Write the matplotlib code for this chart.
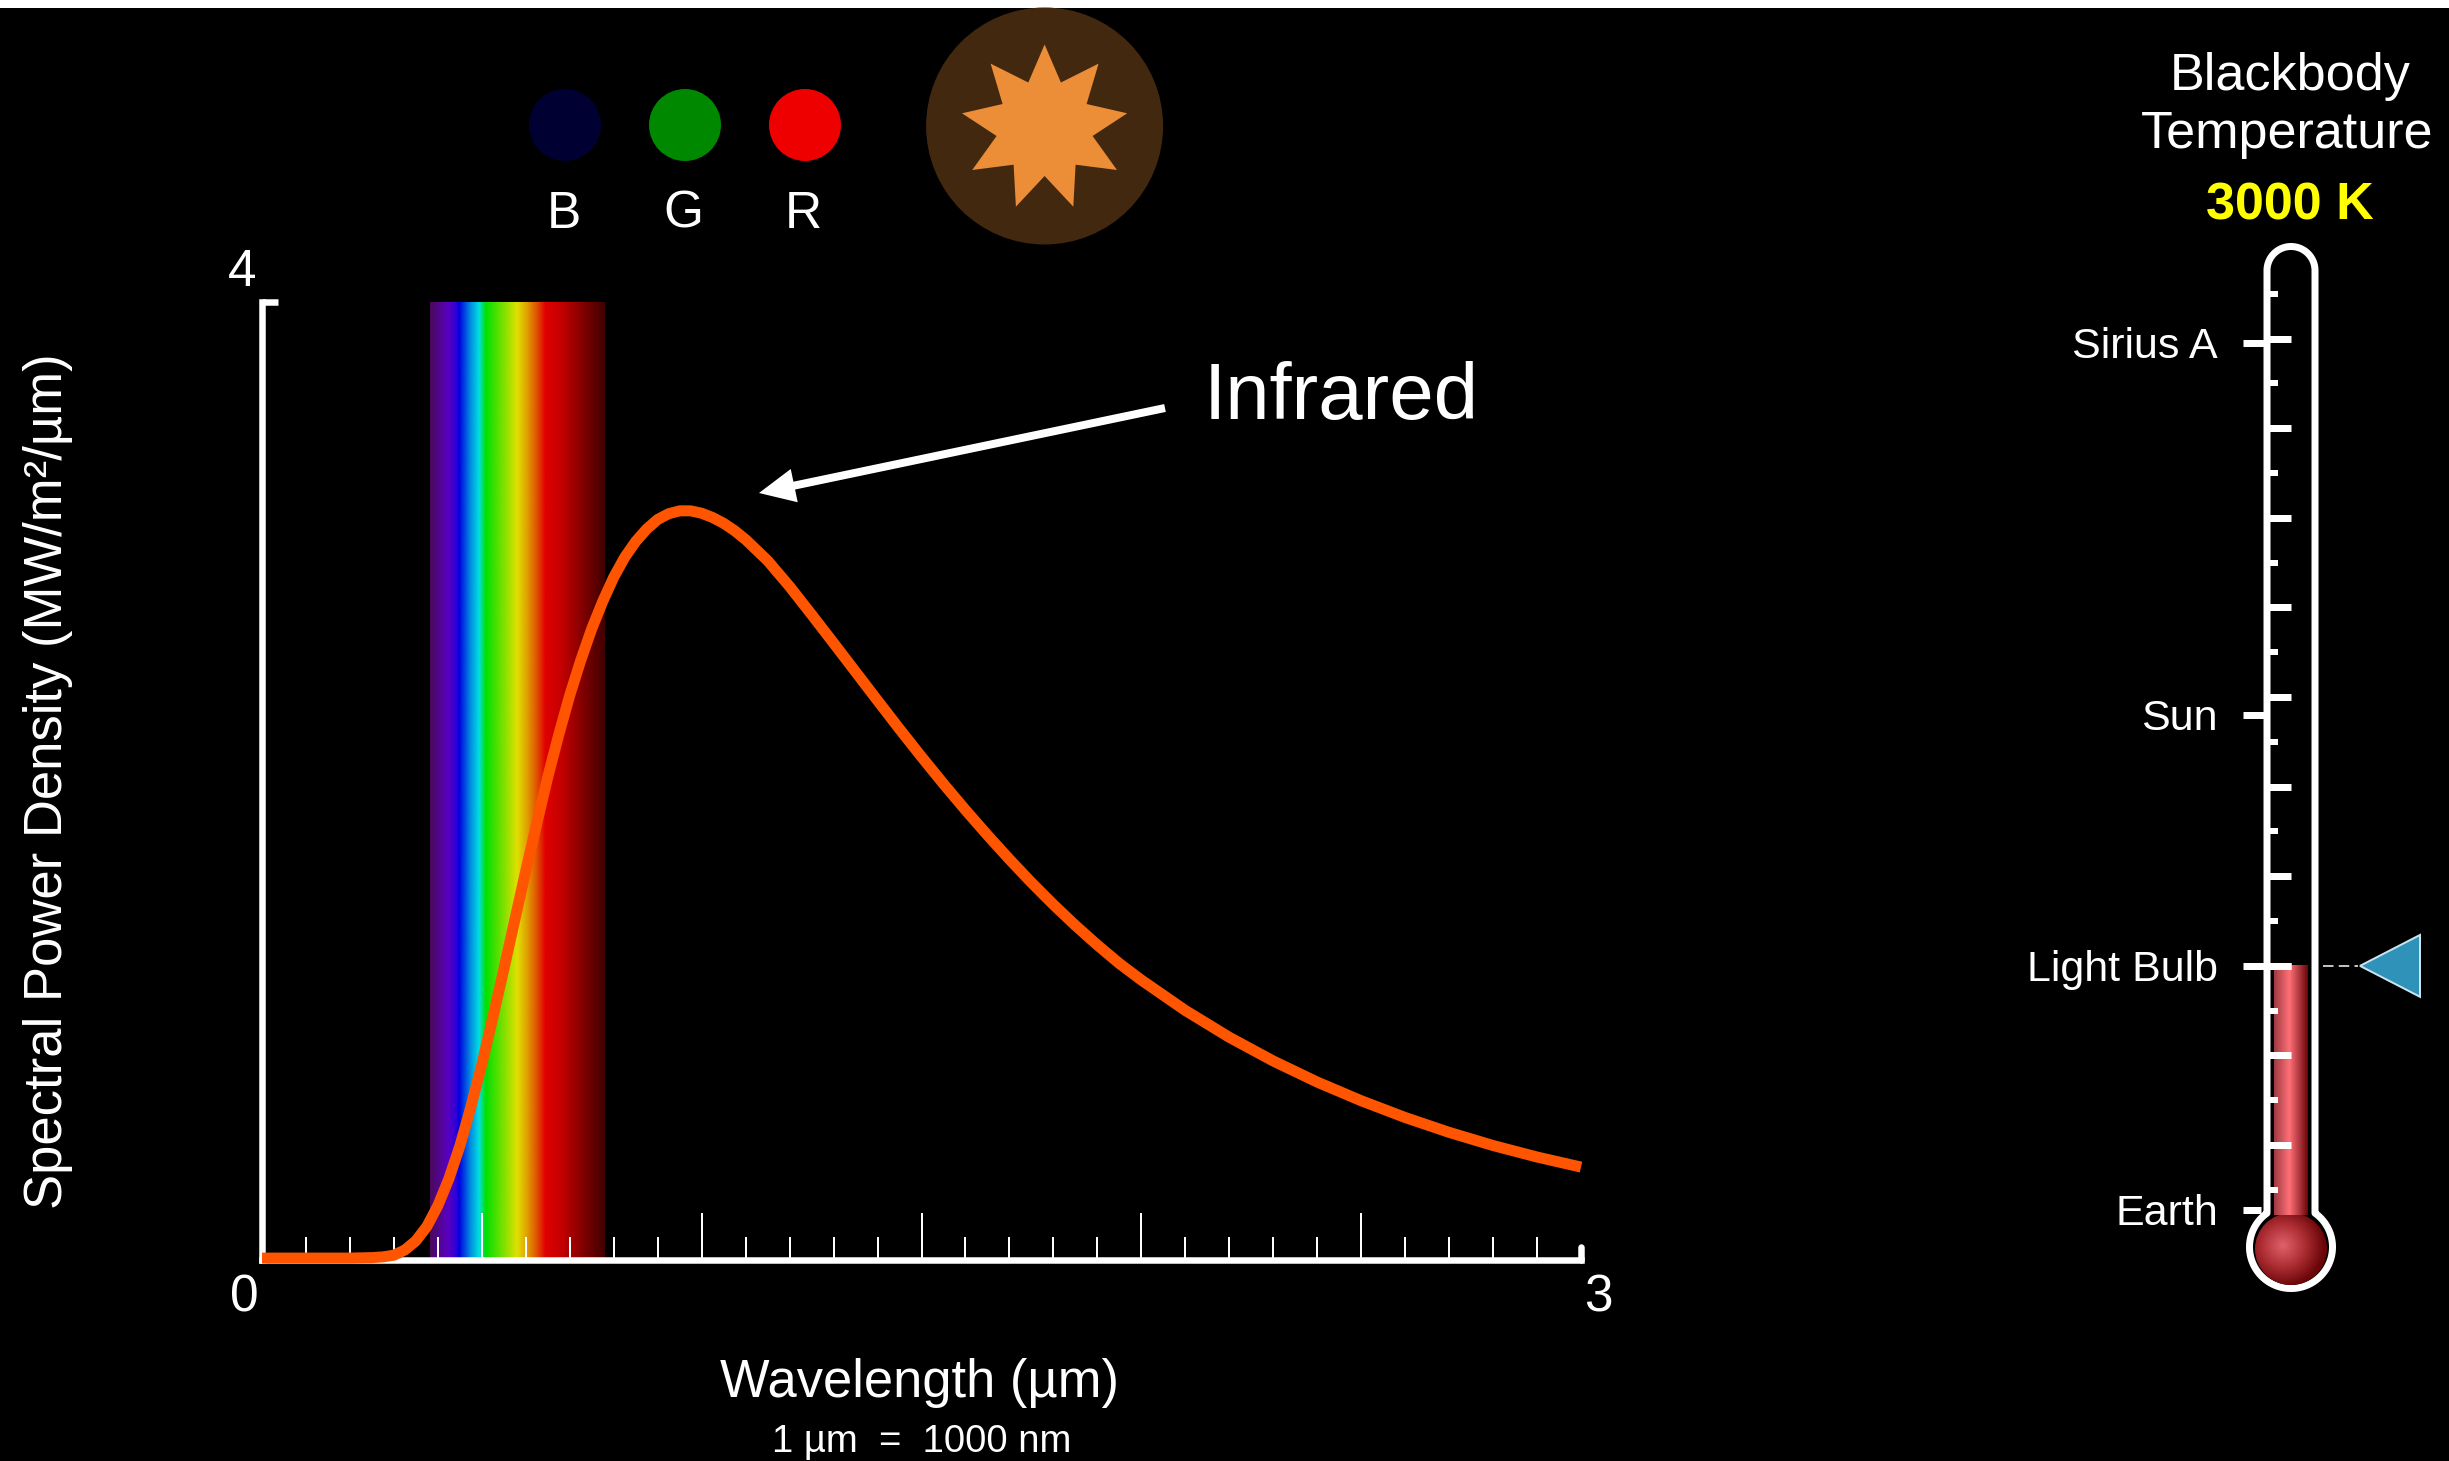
import numpy as np
import matplotlib
matplotlib.use("Agg")
import matplotlib.pyplot as plt
from matplotlib.colors import LinearSegmentedColormap
from matplotlib.patches import Circle, Ellipse, Polygon, Rectangle, FancyArrowPatch

W, H = 2449, 1461
plt.rcParams['font.family'] = ['Liberation Sans', 'DejaVu Sans']

# curve (3000 K)
wavelength = [0.0, 0.1, 0.2, 0.25, 0.275, 0.3, 0.325, 0.35, 0.375, 0.4, 0.425, 0.45, 0.475, 0.5, 0.525, 0.55,
              0.575, 0.6, 0.625, 0.65, 0.675, 0.7, 0.725, 0.75, 0.775, 0.8, 0.825, 0.85, 0.875, 0.9, 0.925,
              0.95, 0.975, 1.0, 1.025, 1.05, 1.075, 1.1, 1.15, 1.2, 1.25, 1.3, 1.35, 1.4, 1.45, 1.5, 1.55,
              1.6, 1.65, 1.7, 1.75, 1.8, 1.85, 1.9, 1.95, 2.0, 2.1, 2.2, 2.3, 2.4, 2.5, 2.6, 2.7, 2.8, 2.9, 3.0]
power = [0.008, 0.008, 0.008, 0.01, 0.013, 0.02, 0.042, 0.08, 0.14, 0.227, 0.339, 0.476, 0.639, 0.817, 1.012, 1.214,
         1.42, 1.625, 1.823, 2.017, 2.194, 2.358, 2.504, 2.636, 2.75, 2.851, 2.934, 3.0, 3.052, 3.092, 3.116,
         3.128, 3.128, 3.118, 3.1, 3.076, 3.045, 3.008, 2.92, 2.812, 2.695, 2.576, 2.456, 2.336, 2.217, 2.101, 1.988,
         1.879, 1.774, 1.673, 1.576, 1.484, 1.397, 1.315, 1.238, 1.169, 1.042, 0.93, 0.831, 0.743, 0.665, 0.595,
         0.533, 0.478, 0.43, 0.388]

# rainbow band
band_start, band_end = 0.382, 0.78
band_pos = [0.0, 0.10, 0.148, 0.165, 0.232, 0.28, 0.318, 0.422, 0.498, 0.555, 0.612, 0.66, 0.763, 0.877, 1.0]
band_col = ['#4a0a5a', '#5a00c0', '#3000d8', '#0000e0', '#0090e0', '#00e0e0', '#00e000', '#80e000',
            '#e0e000', '#e0a000', '#e05000', '#e00000', '#c00000', '#800000', '#400000']

# thermometer (kelvin)
therm_ticks = list(range(500, 11000, 500))
therm_names = ['Sirius A', 'Sun', 'Light Bulb', 'Earth']
therm_temps = [9950, 5800, 3000, 270]
temperature = 3000

# BGR lamps
lamp_names = ['B', 'G', 'R']
lamp_cols = ['#000033', '#008800', '#ee0000']
lamp_x = [565, 685, 805]

px = 72 / 100  # one reference pixel in points

fig = plt.figure(figsize=(W / 100, H / 100), dpi=100, facecolor='black')

# main chart
ax = fig.add_axes([262 / W, (H - 1260) / H, 1319 / W, 958 / H], zorder=1)
ax.set_facecolor('black')
ax.set_xlim(0, 3)
ax.set_ylim(0, 4)
ax.set_axisbelow(False)
for s in ['top', 'right']:
    ax.spines[s].set_visible(False)
for s in ['left', 'bottom']:
    ax.spines[s].set_color('white')
    ax.spines[s].set_linewidth(6.5 * px)

cmap = LinearSegmentedColormap.from_list('band', list(zip(band_pos, band_col)))
ax.imshow(np.linspace(0, 1, 512)[None, :], cmap=cmap, aspect='auto', zorder=1,
          extent=[band_start, band_end, 0, 4])

ax.set_xticks(np.arange(0.5, 3, 0.5))
ax.set_xticks(np.arange(0.1, 3, 0.1), minor=True)
ax.tick_params(axis='x', which='major', direction='in', length=47 * px, width=2 * px, color='white', labelbottom=False)
ax.tick_params(axis='x', which='minor', direction='in', length=23 * px, width=2 * px, color='white')
ax.set_yticks([4])
ax.tick_params(axis='y', direction='in', length=16 * px, width=6.5 * px, color='white', labelleft=False)
ax.plot([3, 3], [0, 0.055], color='white', lw=6.5 * px, solid_capstyle='round', clip_on=False, zorder=2.6)
ax.plot(wavelength, power, color='#ff5500', lw=11 * px, solid_joinstyle='round', solid_capstyle='butt',
        clip_on=False, zorder=3)

# overlay in reference pixels: lamps, sun, labels, thermometer shell
ov = fig.add_axes([0, 0, 1, 1], zorder=2)
ov.patch.set_alpha(0)
ov.axis('off')

ov.add_patch(Rectangle((0, 0), W, 8, color='white', lw=0))

for x, name, col in zip(lamp_x, lamp_names, lamp_cols):
    ov.add_patch(Ellipse((x, 125), 72, 72, color=col, lw=0))
    ov.text(x - 1.5, 228, name, color='white', fontsize=37, ha='center', va='baseline')

ov.add_patch(Circle((1044.6, 126), 118.5, color='#42280f', lw=0))
half_star = [(0, -81.5), (16.3, -43.5), (54, -62.4), (42, -22), (82.6, -12.7), (48, 10),
             (72.4, 44), (31, 38.7), (28.7, 80.7), (0, 50)]
star = half_star + [(-a, b) for a, b in half_star[-2:0:-1]]
ov.add_patch(Polygon([(1044.6 + a, 126 + b) for a, b in star], closed=True, color='#ec8d37', lw=0))

# axis text
ov.text(244, 1298, '0', color='white', fontsize=37, ha='center', va='center')
ov.text(1598, 1298, '3', color='white', fontsize=37, ha='center', va='center')
ov.text(242, 273, '4', color='white', fontsize=37, ha='center', va='center')
ov.text(920, 1397, 'Wavelength (µm)', color='white', fontsize=37.8, ha='center', va='baseline')
ov.text(922, 1452, '1 µm  =  1000 nm', color='white', fontsize=27.5, ha='center', va='baseline')
ov.text(48, 781, 'Spectral Power Density (MW/m²/µm)', color='white', fontsize=37.9, rotation=90,
        ha='center', va='center')

ov.text(1204, 419, 'Infrared', color='white', fontsize=57.5, ha='left', va='baseline')
ov.add_patch(FancyArrowPatch((1165, 408), (759, 493), mutation_scale=1, color='white', lw=0, shrinkA=0, shrinkB=0,
                             arrowstyle='simple,head_length=%g,head_width=%g,tail_width=%g' % (36 * px, 34 * px, 8 * px)))

# title of the thermometer
ov.text(2290, 90, 'Blackbody', color='white', fontsize=37.5, ha='center', va='baseline')
ov.text(2287, 148, 'Temperature', color='white', fontsize=37.5, ha='center', va='baseline')
ov.text(2290, 219, '%d K' % temperature, color='#ffff00', fontsize=37.5, fontweight='bold', ha='center', va='baseline')

# shell
cx, bulb_y, tube_r, bulb_r = 2291, 1247, 24, 41.5
th = np.radians(np.linspace(180, 360, 60))
a0 = np.arcsin(tube_r / bulb_r)
th2 = np.linspace(-np.pi / 2 + a0, 3 * np.pi / 2 - a0, 120)
shell_x = np.r_[cx + tube_r * np.cos(th), cx + bulb_r * np.cos(th2)]
shell_y = np.r_[270.5 + tube_r * np.sin(th), bulb_y + bulb_r * np.sin(th2)]
ov.add_patch(Polygon(np.c_[shell_x, shell_y], closed=True, fc='black', ec='white', lw=7 * px, joinstyle='round'))

# bulb
yy, xx = np.mgrid[-1:1:200j, -1:1:200j]
glow = np.clip(np.hypot(xx + 0.22, yy + 0.1) / 1.15, 0, 1)
bulb_cmap = LinearSegmentedColormap.from_list('bulb', ['#e0626a', '#b03036', '#6a0508'])
im = ov.imshow(glow, cmap=bulb_cmap, vmin=0, vmax=1, aspect='auto', zorder=2,
               extent=[cx - 36, cx + 36, 1249 + 36, 1249 - 36])
im.set_clip_path(Circle((cx, 1249), 36, transform=ov.transData))

ov.set_xlim(0, W)
ov.set_ylim(H, 0)

# thermometer scale, y axis in kelvin
tax = fig.add_axes([0, 0, 1, 1], zorder=3)
tax.patch.set_alpha(0)
tax.axis('off')
col_cmap = LinearSegmentedColormap.from_list('col', [(0, '#a03a42'), (0.45, '#ff7076'), (0.75, '#b03840'), (1, '#6a0508')])
tax.imshow(np.linspace(0, 1, 64)[None, :], cmap=col_cmap, aspect='auto', extent=[2274, 2308, 220, temperature])

for t in therm_ticks:
    major = t % 1000 == 0
    tax.hlines(t, 2267, 2291 if major else 2278, color='white', lw=(7 if major else 6) * px)
for name, t in zip(therm_names, therm_temps):
    if name != 'Light Bulb':
        tax.hlines(t, 2243, 2267 if name != 'Earth' else 2261, color='white', lw=7 * px)
    tax.annotate(name, (2218, t), xytext=(0, -15 * px), textcoords='offset points', color='white',
                 fontsize=31, ha='right', va='baseline')
tax.hlines(temperature, 2243, 2291, color='white', lw=7 * px)

# pointer
tax.plot([2323, 2358], [temperature, temperature], color='white', lw=1.5 * px, dashes=(7, 3.5))
tax.add_patch(Polygon([(2360, temperature), (2420, temperature + 345), (2420, temperature - 345)], closed=True,
                      fc='#2e92b9', ec='#c8e4f0', lw=2 * px))

tax.set_xlim(0, W)
tax.set_ylim(-2526, 13780)

fig.savefig('out.png', dpi=100, facecolor='black')
